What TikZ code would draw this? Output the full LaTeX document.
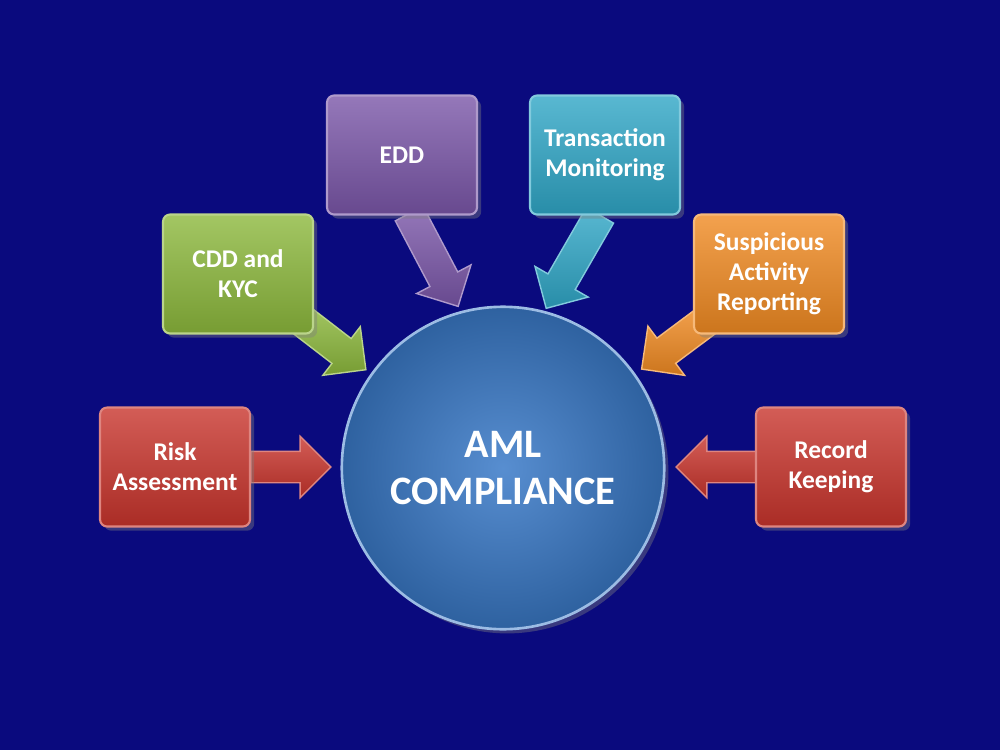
\documentclass[tikz,border=0pt]{standalone}
\usepackage{fontspec}
\setmainfont{Carlito}
\usetikzlibrary{shapes.arrows,shadows}
\definecolor{bg}{HTML}{0A0A7E}
\definecolor{cred}{HTML}{C8342C}
\definecolor{cgreen}{HTML}{8CB83C}
\definecolor{cpurple}{HTML}{7A56A8}
\definecolor{cteal}{HTML}{2FA6C6}
\definecolor{corange}{HTML}{F08A22}
\definecolor{cblue}{HTML}{3A7AC8}
\tikzset{
  box/.style={draw=#1!60!white, line width=1.2pt, rounded corners=4pt, minimum width=3cm, minimum height=2.38cm,
    top color=#1!80!white, bottom color=#1!85!black, text=white, font=\bfseries\fontsize{14.5}{17}\selectfont,
    align=center, drop shadow={opacity=0.4}},
  barrow/.style={single arrow, draw=#1!60!white, line width=0.8pt, single arrow head extend=0.3cm,
    inner xsep=0pt, inner ysep=0.3cm, top color=#1!80!white, bottom color=#1!85!black, shading angle=0},
}
\begin{document}
\begin{tikzpicture}[x=0.02cm,y=-0.02cm]
\fill[bg] (0,0) rectangle (1000,750);
\useasboundingbox (0,0) rectangle (1000,750);
% arrows
\node[barrow=cred, minimum height=1.6cm] (a1) at (283,467) {};
\node[barrow=cred, minimum height=1.6cm, rotate=180] (a6) at (724,467) {};
\node[barrow=cgreen, minimum height=1.7cm, rotate=-37.6] (a2) at (326,339) {};
\node[barrow=cpurple, minimum height=2.1cm, rotate=-62.2] (a3) at (430,253) {};
\node[barrow=cteal, minimum height=2.15cm, rotate=-120] (a4) at (577,255) {};
\node[barrow=corange, minimum height=1.7cm, rotate=-143.3] (a5) at (682,339) {};
% circle
\node[circle, minimum size=6.45cm, draw=cblue!50!white, line width=1.5pt, inner color=cblue!85!white, outer color=cblue!80!black,
  text=white, font=\bfseries\fontsize{23}{27}\selectfont, align=center, drop shadow={opacity=0.4}] (c) at (503,468) {AML\\COMPLIANCE};
% boxes
\node[box=cred] (r) at (175,467) {Risk\\Assessment};
\node[box=cgreen] (k) at (238,274) {CDD and\\KYC};
\node[box=cpurple] (e) at (402,155) {EDD};
\node[box=cteal] (t) at (605,155) {Transaction\\Monitoring};
\node[box=corange] (s) at (769,274) {Suspicious\\Activity\\Reporting};
\node[box=cred] (rk) at (831,467) {Record\\Keeping};
\end{tikzpicture}
\end{document}
